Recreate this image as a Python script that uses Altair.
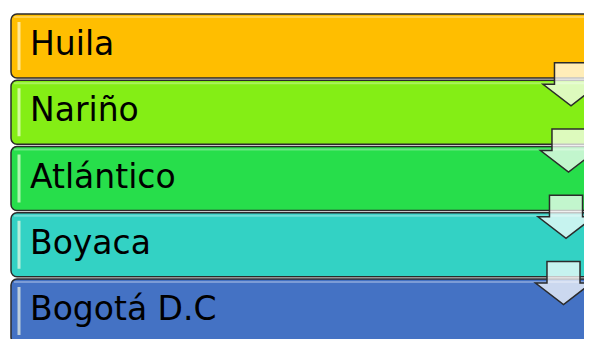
import altair as alt
import pandas as pd

labels = ["Huila", "Nariño", "Atlántico", "Boyaca", "Bogotá D.C"]
colors = ["#FFBE00", "#84EE15", "#27DE4B", "#33D2C4", "#4472C4"]

# layout (pixel space of the reference picture)
STEP = 66.25
TOP0 = 14
BOX_H = 64

rows = []
for i, (lab, col) in enumerate(zip(labels, colors)):
    top = TOP0 + STEP * i
    rows.append(dict(label=lab, color=col, top=top, bottom=top + BOX_H,
                     ty=top + 41, x0=11, x1=600, tx=30,
                     hl_top=top + 3, l_y0=top + 8, l_y1=top + BOX_H - 8))
boxes = pd.DataFrame(rows)

arr = []
for i in range(len(labels) - 1):
    arr.append(dict(cx=571 - 2.5 * i, cy=TOP0 + STEP * (i + 1) + 4))
arrows = pd.DataFrame(arr)

xs = alt.Scale(domain=[8, 584], range=[0, 576], zero=False, nice=False)
ys = alt.Scale(domain=[8, 339], range=[0, 331], zero=False, nice=False)

rects = alt.Chart(boxes).mark_rect(cornerRadius=6, stroke="#2b2b2b", strokeWidth=1.5).encode(
    x=alt.X("x0:Q", scale=xs, axis=None),
    x2="x1:Q",
    y=alt.Y("top:Q", scale=ys, axis=None),
    y2="bottom:Q",
    color=alt.Color("color:N", scale=None),
)

top_hl = alt.Chart(boxes).mark_rule(color="white", opacity=0.3, strokeWidth=2).encode(
    x=alt.value(6),
    x2=alt.value(576),
    y=alt.Y("hl_top:Q", scale=ys, axis=None),
)

left_hl = alt.Chart(boxes).mark_rule(color="#ffffe8", opacity=0.65, strokeWidth=3).encode(
    x=alt.value(11),
    y=alt.Y("l_y0:Q", scale=ys, axis=None),
    y2="l_y1:Q",
)

texts = alt.Chart(boxes).mark_text(align="left", baseline="alphabetic", font="DejaVu Sans",
                                   fontSize=33, color="black").encode(
    x=alt.X("tx:Q", scale=xs, axis=None),
    y=alt.Y("ty:Q", scale=ys, axis=None),
    text="label:N",
)

arrow_path = "M -0.59 -0.77 L 0.59 -0.77 L 0.59 0 L 1 0 L 0 0.77 L -1 0 L -0.59 0 Z"
arrow_marks = alt.Chart(arrows).mark_point(shape=arrow_path, size=56 * 56, filled=True,
                                           fill="white", fillOpacity=0.72, stroke="#2b2b2b",
                                           strokeWidth=1.5, strokeOpacity=1, opacity=1).encode(
    x=alt.X("cx:Q", scale=xs, axis=None),
    y=alt.Y("cy:Q", scale=ys, axis=None),
)

chart = alt.layer(rects, top_hl, left_hl, texts, arrow_marks).properties(
    width=576, height=331, padding=0, autosize=alt.AutoSizeParams(type="none"),
    background="white",
).configure_view(stroke=None)

chart.save("out.html", embed_options={"renderer": "svg", "actions": False})
